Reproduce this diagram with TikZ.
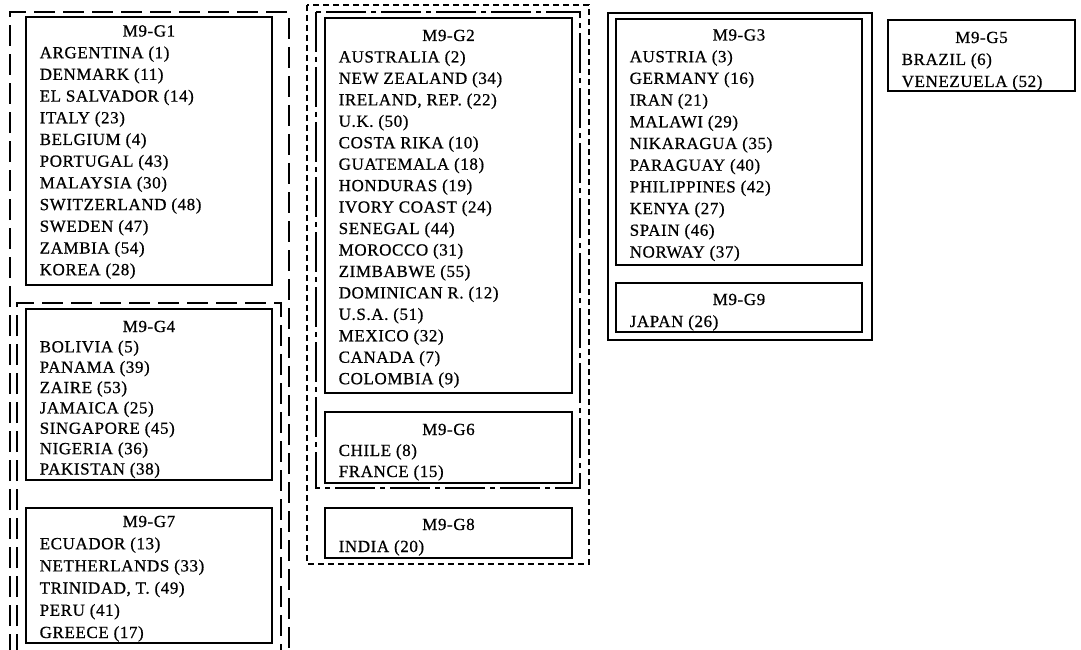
\documentclass[tikz,border=0pt]{standalone}
\usepackage{fontspec}
\newfontfamily\lblfont{Liberation Serif}[LetterSpace=3.5,FakeBold=0.7]
\tikzset{
  lbl/.style={font=\lblfont\fontsize{17}{18}\selectfont, inner sep=0pt, text=black},
  gbox/.style={draw=black, line width=1.3pt},
  longdash/.style={draw=black, line width=1.5pt, dash pattern=on 21pt off 8pt},
  shortdash/.style={draw=black, line width=1.4pt, dash pattern=on 6pt off 4pt},
  dashdot/.style={draw=black, line width=1.4pt, dash pattern=on 40pt off 5pt on 5pt off 5pt},
  thickbox/.style={draw=black, line width=2.6pt}
}
\newcommand\grpbox[8]{%
  \draw[gbox] (#2,#3) rectangle (#4,#5);
  \node[lbl, anchor=base] (#1-t) at ({(#2+#4)/2},#6) {M9-#1};
  \foreach \c [count=\i] in {#8} {
    \node[lbl, anchor=base west] (#1-\i) at (#2+13.5,{#6+\i*#7}) {\c};
  }%
}
\begin{document}
\begin{tikzpicture}[x=1pt,y=-1pt]
\useasboundingbox (0,0) rectangle (1081,650);
\clip (0,0) rectangle (1081,650);
\fill[white] (0,0) rectangle (1081,650);
% left column enclosures (open at the bottom)
\draw[longdash] (10,655) -- (10,12) -- (289,12) -- (289,655);
\draw[longdash] (17,655) -- (17,303) -- (281,303) -- (281,655);
% middle column enclosures
\draw[shortdash] (307,5) rectangle (589,564);
\draw[dashdot] (316,12) rectangle (580,488);
% right enclosure
\draw[thickbox] (608,13) rectangle (872,340);
% groups
\grpbox{G1}{26}{17}{272}{285}{36.5}{21.7}{ARGENTINA (1),DENMARK (11),EL SALVADOR (14),ITALY (23),BELGIUM (4),PORTUGAL (43),MALAYSIA (30),SWITZERLAND (48),SWEDEN (47),ZAMBIA (54),KOREA (28)}
\grpbox{G4}{26}{309}{272}{480}{332}{20.36}{BOLIVIA (5),PANAMA (39),ZAIRE (53),JAMAICA (25),SINGAPORE (45),NIGERIA (36),PAKISTAN (38)}
\grpbox{G7}{26}{508}{272}{643}{527}{22.2}{ECUADOR (13),NETHERLANDS (33),{TRINIDAD, T. (49)},PERU (41),GREECE (17)}
\grpbox{G2}{325}{18}{572}{393}{41}{21.45}{AUSTRALIA (2),NEW ZEALAND (34),{IRELAND, REP. (22)},U.K. (50),COSTA RIKA (10),GUATEMALA (18),HONDURAS (19),IVORY COAST (24),SENEGAL (44),MOROCCO (31),ZIMBABWE (55),DOMINICAN R. (12),U.S.A. (51),MEXICO (32),CANADA (7),COLOMBIA (9)}
\grpbox{G6}{325}{412}{572}{483}{435}{21}{CHILE (8),FRANCE (15)}
\grpbox{G8}{325}{508}{572}{558}{530}{22}{INDIA (20)}
\grpbox{G3}{616}{19}{862}{265}{40.5}{21.7}{AUSTRIA (3),GERMANY (16),IRAN (21),MALAWI (29),NIKARAGUA (35),PARAGUAY (40),PHILIPPINES (42),KENYA (27),SPAIN (46),NORWAY (37)}
\grpbox{G9}{616}{283}{862}{332}{305}{22}{JAPAN (26)}
\grpbox{G5}{888}{20}{1075}{91}{43}{22}{BRAZIL (6),VENEZUELA (52)}
\end{tikzpicture}
\end{document}
